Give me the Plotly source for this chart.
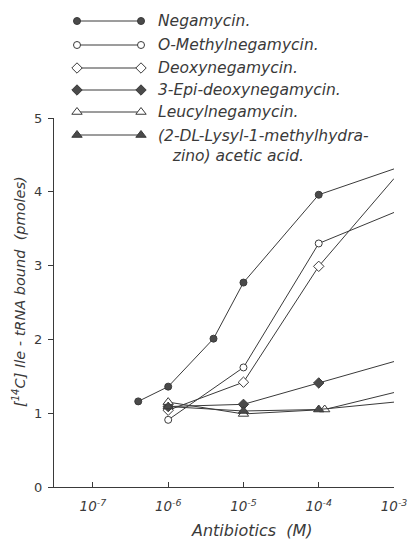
import plotly.graph_objects as go

# ---- data ----
neg_x = [4e-7, 1e-6, 4e-6, 1e-5, 1e-4, 1e-3]
neg_y = [1.16, 1.36, 2.01, 2.77, 3.96, 4.31]

conc_x = [1e-6, 1e-5, 1e-4, 1e-3]
omethyl_y = [0.91, 1.62, 3.30, 3.72]
deoxy_y = [1.04, 1.42, 2.99, 4.18]
epi_y = [1.09, 1.12, 1.41, 1.70]
leucyl_x = [1e-6, 1e-5, 1.2e-4, 1e-3]
leucyl_y = [1.15, 0.99, 1.05, 1.28]
lysyl_y = [1.09, 1.03, 1.05, 1.15]

series_names = [
    "Negamycin.",
    "O-Methylnegamycin.",
    "Deoxynegamycin.",
    "3-Epi-deoxynegamycin.",
    "Leucylnegamycin.",
    "(2-DL-Lysyl-1-methylhydra-<br>   zino) acetic acid.",
]
x_tick_vals = [1e-7, 1e-6, 1e-5, 1e-4, 1e-3]
x_tick_text = ["10<sup>-7</sup>", "10<sup>-6</sup>", "10<sup>-5</sup>", "10<sup>-4</sup>", "10<sup>-3</sup>"]
y_tick_vals = [0, 1, 2, 3, 4, 5]

# ---- styling ----
W, H = 411, 540
INK = "#3a3a3a"
FILL = "#4a4a4a"
FONT = "DejaVu Sans"

styles = [
    dict(symbol="circle", size=7, color=FILL, line=dict(color=INK, width=1)),
    dict(symbol="circle", size=7, color="white", line=dict(color=INK, width=1)),
    dict(symbol="diamond", size=8, color="white", line=dict(color=INK, width=1)),
    dict(symbol="diamond", size=8, color=FILL, line=dict(color=INK, width=1)),
    dict(symbol="triangle-up", size=9, color="white", line=dict(color=INK, width=1)),
    dict(symbol="triangle-up", size=9, color=FILL, line=dict(color=INK, width=1)),
]

data_sets = [
    (neg_x, neg_y),
    (conc_x, omethyl_y),
    (conc_x, deoxy_y),
    (conc_x, epi_y),
    (leucyl_x, leucyl_y),
    (conc_x, lysyl_y),
]

fig = go.Figure()
for (xs, ys), st, nm in zip(data_sets, styles, series_names):
    fig.add_trace(go.Scatter(
        x=xs, y=ys, mode="lines+markers", name=nm,
        line=dict(color=INK, width=1), marker=st,
        cliponaxis=False, showlegend=False,
    ))

# custom legend drawn on a pixel overlay axis (page pixel coordinates)
leg_rows = [21, 45, 68, 90, 112, 135]
for row, st, nm in zip(leg_rows, styles, series_names):
    fig.add_trace(go.Scatter(
        x=[77, 141], y=[row, row], xaxis="x2", yaxis="y2",
        mode="lines+markers", line=dict(color=INK, width=1), marker=st,
        cliponaxis=False, showlegend=False, hoverinfo="skip",
    ))
    two = "<br>" in nm
    fig.add_annotation(
        x=156, y=row, xref="x2", yref="y2", text=nm, showarrow=False,
        xanchor="left", yanchor="top" if two else "middle",
        yshift=10 if two else 0,
        align="left",
        font=dict(family=FONT, size=15.5, color=INK, style="italic"),
    )

x0, x1 = 54, 394
ytop, ybot = 118, 487
fig.update_layout(
    width=W, height=H,
    margin=dict(l=0, r=0, t=0, b=0, autoexpand=False),
    paper_bgcolor="white", plot_bgcolor="rgba(0,0,0,0)",
    font=dict(family=FONT, color=INK, size=13),
    xaxis=dict(
        type="log", range=[-7.517, -3],
        domain=[x0 / W, x1 / W],
        tickvals=x_tick_vals, ticktext=x_tick_text,
        ticks="inside", ticklen=5, tickcolor=INK,
        showline=True, linecolor=INK, linewidth=1,
        showgrid=False, zeroline=False, automargin=False,
        tickfont=dict(family=FONT, size=13.5, color=INK, style="italic"),
        ticklabelstandoff=7,
    ),
    yaxis=dict(
        range=[0, 5],
        domain=[(H - ybot) / H, (H - ytop) / H],
        tickvals=y_tick_vals,
        ticks="outside", ticklen=5, tickcolor=INK,
        showline=True, linecolor=INK, linewidth=1,
        showgrid=False, zeroline=False, automargin=False,
        tickfont=dict(family=FONT, size=13, color=INK),
        ticklabelstandoff=3,
    ),
    xaxis2=dict(range=[0, W], domain=[0, 1], visible=False,
                anchor="y2", fixedrange=True),
    yaxis2=dict(range=[H, 0], domain=[0, 1], visible=False,
                anchor="x2", fixedrange=True),
)

fig.add_annotation(
    x=252, y=530, xref="x2", yref="y2", text="Antibiotics  (M)",
    showarrow=False, xanchor="center", yanchor="middle",
    font=dict(family=FONT, size=16, color=INK, style="italic"),
)
fig.add_annotation(
    x=19, y=292, xref="x2", yref="y2",
    text="[<sup>14</sup>C] Ile - tRNA bound  (pmoles)",
    showarrow=False, textangle=-90, xanchor="center", yanchor="middle",
    font=dict(family=FONT, size=14.5, color=INK, style="italic"),
)

fig.write_html(
    "out.html",
    config={"displayModeBar": False},
    post_script="document.body.style.margin='0';document.body.style.overflow='hidden';",
)
